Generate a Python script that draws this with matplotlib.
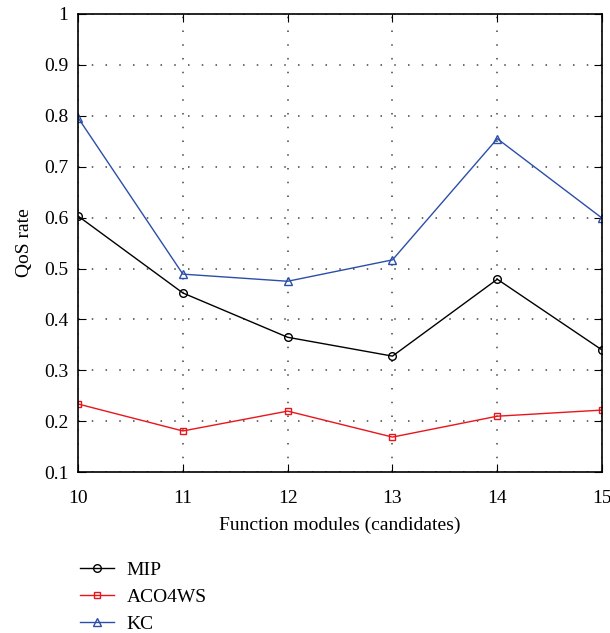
import matplotlib
matplotlib.use('Agg')
import matplotlib.pyplot as plt

plt.rcParams['font.family'] = ['Liberation Serif', 'DejaVu Serif']

candidates = [10, 11, 12, 13, 14, 15]
mip = [0.603, 0.452, 0.365, 0.328, 0.479, 0.340]
aco4ws = [0.234, 0.181, 0.220, 0.169, 0.210, 0.222]
kc = [0.796, 0.489, 0.475, 0.517, 0.755, 0.599]

fig = plt.figure(figsize=(6.1, 6.33), dpi=100)
ax = fig.add_axes([0.128, 0.254, 0.859, 0.724])

l1, = ax.plot(candidates, mip, color='black', lw=1, marker='o', ms=5.5, mfc='none', mew=1, label='MIP')
l2, = ax.plot(candidates, aco4ws, color='#e8161b', lw=1, marker='s', ms=5, mfc='none', mew=1, label='ACO4WS')
l3, = ax.plot(candidates, kc, color='#2b4fa8', lw=1, marker='^', ms=5.5, mfc='none', mew=1, label='KC')

ax.set_xlim(10, 15)
ax.set_ylim(0.1, 1)
ax.set_xticks(candidates)
ax.set_yticks([0.1, 0.2, 0.3, 0.4, 0.5, 0.6, 0.7, 0.8, 0.9, 1])
ax.set_yticklabels(['0.1', '0.2', '0.3', '0.4', '0.5', '0.6', '0.7', '0.8', '0.9', '1'])
ax.grid(True, color='#444444', linestyle=(0, (1, 8)), lw=1.1)
ax.tick_params(direction='in', length=6, labelsize=14, top=True, right=True, pad=7)
ax.tick_params(axis='x', pad=13)
for s in ax.spines.values():
    s.set_linewidth(1.2)

ax.set_xlabel('Function modules (candidates)', fontsize=14, labelpad=7)
ax.set_ylabel('QoS rate', fontsize=14, labelpad=8)

fig.legend(handles=[l1, l2, l3], loc='upper left', bbox_to_anchor=(0.125, 0.120),
           frameon=False, fontsize=14, handlelength=1.75, handletextpad=0.65,
           labelspacing=0.5, borderaxespad=0, borderpad=0.2)

fig.savefig('out.png', dpi=100)
